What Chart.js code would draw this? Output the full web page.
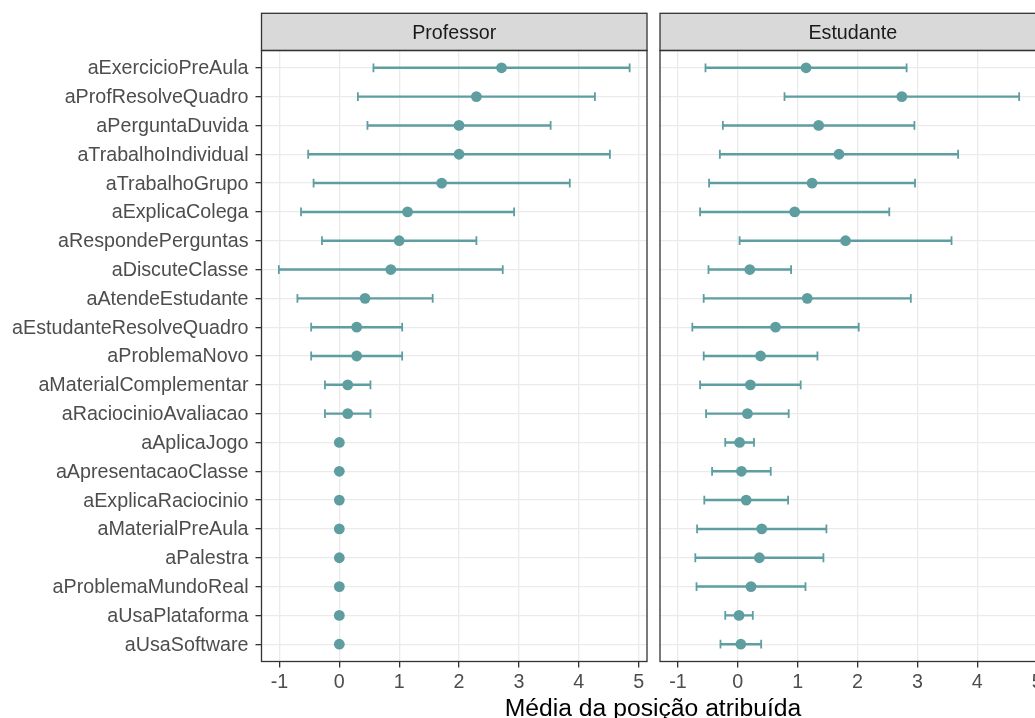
<!DOCTYPE html>
<html>
<head>
<meta charset="utf-8">
<title>Média da posição atribuída</title>
<script src="https://cdn.jsdelivr.net/npm/chart.js@4.4.1/dist/chart.umd.min.js"></script>
<style>
  html, body { margin: 0; padding: 0; background: #ffffff; }
  #wrap { position: relative; width: 1035px; height: 718px; overflow: hidden; }
  #panelLeft { position: absolute; left: 0; top: 0; width: 655px; height: 718px; }
  #panelRight { position: absolute; left: 652px; top: 0; width: 420px; height: 718px; }
  #xtitle {
    position: absolute; left: 353px; top: 695.5px; width: 600px;
    text-align: center; font-family: 'Liberation Sans', Arial, Helvetica, sans-serif;
    font-size: 24.7px; line-height: 1; color: #000000; white-space: nowrap;
  }
</style>
</head>
<body>
<div id="wrap">
  <canvas id="panelLeft" width="655" height="718"></canvas>
  <canvas id="panelRight" width="420" height="718"></canvas>
  <div id="xtitle">Média da posição atribuída</div>
</div>
<script>
// Activities, top to bottom
const categories = [
  'aExercicioPreAula', 'aProfResolveQuadro', 'aPerguntaDuvida', 'aTrabalhoIndividual',
  'aTrabalhoGrupo', 'aExplicaColega', 'aRespondePerguntas', 'aDiscuteClasse',
  'aAtendeEstudante', 'aEstudanteResolveQuadro', 'aProblemaNovo', 'aMaterialComplementar',
  'aRaciocinioAvaliacao', 'aAplicaJogo', 'aApresentacaoClasse', 'aExplicaRaciocinio',
  'aMaterialPreAula', 'aPalestra', 'aProblemaMundoReal', 'aUsaPlataforma', 'aUsaSoftware'
];

// Facet titles
const facetLabels = ['Professor', 'Estudante'];

// x-axis ticks
const xTicks = [-1, 0, 1, 2, 3, 4, 5];

// Professor: mean position and standard deviation
const profMean = [2.71, 2.29, 2.00, 2.00, 1.71, 1.14, 1.00, 0.86, 0.43, 0.29, 0.29, 0.14, 0.14,
                  0, 0, 0, 0, 0, 0, 0, 0];
const profSd   = [2.14, 1.98, 1.53, 2.52, 2.14, 1.78, 1.29, 1.87, 1.13, 0.76, 0.76, 0.38, 0.38,
                  0, 0, 0, 0, 0, 0, 0, 0];

// Estudante: mean position and standard deviation
const studMean = [1.14, 2.74, 1.35, 1.69, 1.24, 0.95, 1.80, 0.20, 1.16, 0.63, 0.38, 0.21, 0.16,
                  0.03, 0.06, 0.14, 0.40, 0.36, 0.22, 0.02, 0.05];
const studSd   = [1.68, 1.96, 1.60, 1.99, 1.72, 1.58, 1.77, 0.69, 1.73, 1.39, 0.95, 0.84, 0.69,
                  0.24, 0.49, 0.70, 1.08, 1.07, 0.91, 0.23, 0.34];

const TEAL = '#5f9ea0';
const FONT = "'Liberation Sans', Arial, Helvetica, sans-serif";
const TEXT_PX = 19.7;
Chart.defaults.font.family = FONT;

// Points, whiskers (floating bars) and caps for one facet
function panelDatasets(mean, sd) {
  const dots = mean.map((m, i) => ({ x: m, y: i + 1 }));
  const whiskers = [];
  const caps = [];
  mean.forEach((m, i) => {
    if (sd[i] > 0) {
      whiskers.push({ y: i + 1, x: [m - sd[i], m + sd[i]] });
      caps.push({ x: m - sd[i], y: i + 1 }, { x: m + sd[i], y: i + 1 });
    }
  });
  return [
    {
      type: 'scatter', data: dots, order: 0,
      pointRadius: 5.4, pointBackgroundColor: TEAL, pointBorderWidth: 0, pointBorderColor: TEAL
    },
    {
      type: 'scatter', data: caps, order: 1,
      pointStyle: 'line', pointRotation: 90, pointRadius: 4.4,
      pointBorderColor: TEAL, pointBorderWidth: 1.8, pointBackgroundColor: TEAL
    },
    {
      type: 'bar', data: whiskers, order: 2, indexAxis: 'y',
      backgroundColor: TEAL, borderWidth: 0, barThickness: 1.8, grouped: false
    }
  ];
}

// Facet strip on top of the panel and the panel frame
const facetFrame = {
  id: 'facetFrame',
  afterDraw(chart, args, opts) {
    const { ctx, chartArea: a } = chart;
    ctx.save();
    ctx.lineWidth = 1.3;
    ctx.strokeStyle = '#333333';
    ctx.fillStyle = '#d9d9d9';
    ctx.fillRect(a.left, opts.stripTop, a.right - a.left, a.top - opts.stripTop);
    ctx.strokeRect(a.left, opts.stripTop, a.right - a.left, a.top - opts.stripTop);
    ctx.fillStyle = '#1a1a1a';
    ctx.font = TEXT_PX + 'px ' + FONT;
    ctx.textAlign = 'center';
    ctx.textBaseline = 'alphabetic';
    ctx.fillText(opts.label, (a.left + a.right) / 2, opts.baseline);
    ctx.strokeRect(a.left, a.top, a.right - a.left, a.bottom - a.top);
    ctx.restore();
  }
};

function makePanel(canvasId, label, mean, sd, showY, yAxisWidth, padRight) {
  return new Chart(document.getElementById(canvasId), {
    type: 'bar',
    data: { datasets: panelDatasets(mean, sd) },
    plugins: [facetFrame],
    options: {
      indexAxis: 'y',
      responsive: false,
      animation: false,
      events: [],
      layout: { padding: { top: 50.5, right: padRight, bottom: 0, left: 0 } },
      plugins: {
        legend: { display: false },
        tooltip: { enabled: false },
        facetFrame: { label: label, stripTop: 13.3, baseline: 39.3 }
      },
      scales: {
        x: {
          type: 'linear', position: 'bottom',
          min: -1.3, max: 5.14, offset: false,
          afterBuildTicks: s => { s.ticks = xTicks.map(v => ({ value: v })); },
          afterFit: s => { s.height = 56.5; },
          grid: { offset: false, color: '#ebebeb', lineWidth: 1.3, tickColor: '#333333', tickLength: 6, tickWidth: 1.3 },
          border: { display: false },
          ticks: { color: '#4d4d4d', font: { size: TEXT_PX }, padding: 3, maxRotation: 0, autoSkip: false }
        },
        y: {
          type: 'linear', position: 'left', reverse: true,
          min: 0.4, max: 21.6, offset: false,
          afterBuildTicks: s => { s.ticks = categories.map((c, i) => ({ value: i + 1 })); },
          afterFit: s => { s.width = yAxisWidth; },
          grid: {
            offset: false, color: '#ebebeb', lineWidth: 1.3, tickColor: '#333333',
            drawTicks: showY, tickLength: 6, tickWidth: 1.3
          },
          border: { display: false },
          ticks: {
            display: showY, color: '#4d4d4d', font: { size: TEXT_PX }, padding: 7,
            autoSkip: false, labelOffset: 1,
            callback: v => categories[v - 1]
          }
        }
      }
    }
  });
}

makePanel('panelLeft', facetLabels[0], profMean, profSd, true, 261.5, 8);
makePanel('panelRight', facetLabels[1], studMean, studSd, false, 8, 26.5);
</script>
</body>
</html>
